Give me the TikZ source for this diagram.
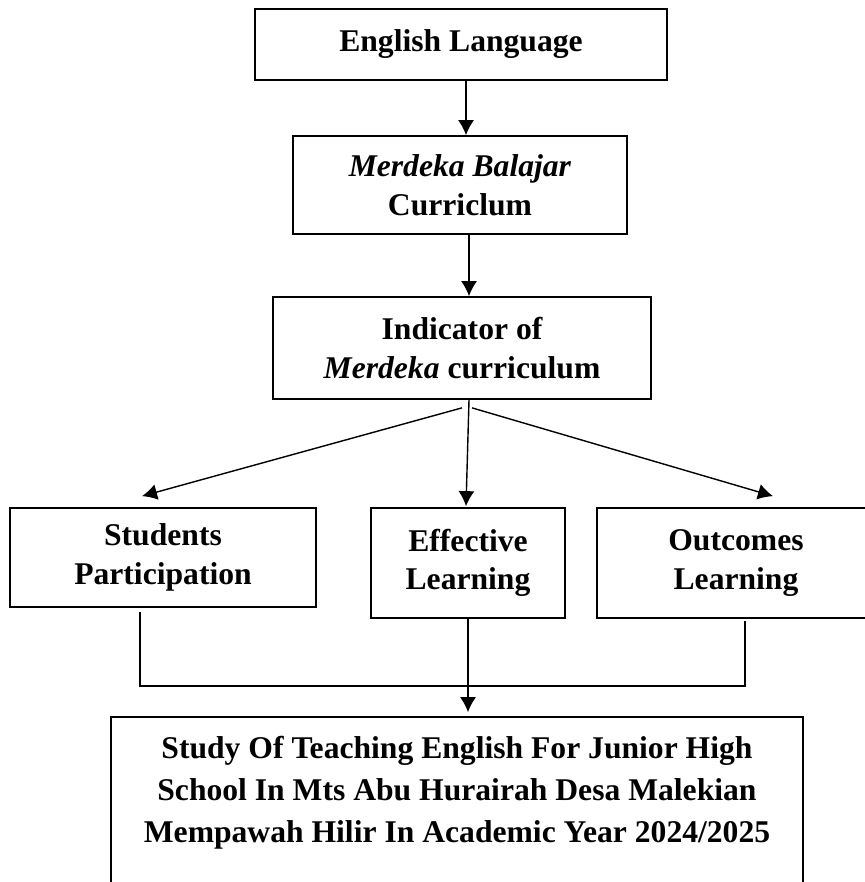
\documentclass[tikz,border=0pt]{standalone}
\usepackage{fontspec}
\setmainfont{Liberation Serif}
\usetikzlibrary{calc,arrows.meta}

\begin{document}
\begin{tikzpicture}[x=0.02cm,y=-0.02cm,
    box/.style={draw, line width=1pt, inner sep=0pt, align=center, font=\fontsize{18}{22}\selectfont\bfseries},
    arr/.style={draw, line width=0.8pt, -{Latex[length=0.3cm,width=0.32cm]}}]
    \useasboundingbox (0,0) rectangle (865,882);
    \node[box, minimum width=8.24cm, minimum height=1.42cm] at (461,44.5) (eng) {English Language};
    \node[box, minimum width=6.68cm, minimum height=1.96cm] at (460,185) (mbc) {\textit{Merdeka Balajar}\\Curriclum};
    \node[box, minimum width=7.56cm, minimum height=2.04cm] at (462,348) (ind) {Indicator of\\\textit{Merdeka} curriculum};
    \node[box, minimum width=6.12cm, minimum height=1.98cm] at (163,557.5) (stu) {Students\\Participation};
    \node[box, minimum width=3.88cm, minimum height=2.2cm] at (468,563) (eff) {Effective\\Learning};
    \node[box, minimum width=5.56cm, minimum height=2.2cm] at (736,563) (out) {Outcomes\\Learning};
    \node[box, font=\fontsize{18}{24}\selectfont\bfseries, minimum width=13.84cm, minimum height=3.74cm] at (457,810.5) (res) {Study Of Teaching English For Junior High\\School In Mts Abu Hurairah Desa Malekian\\Mempawah Hilir In Academic Year 2024/2025\\\mbox{}};
    \draw[arr] ($(eng.south)+(5,0)$) -- ($(mbc.north)+(6,0)$);
    \draw[arr] ($(mbc.south)+(9,0)$) -- ($(ind.north)+(7,0)$);
    \draw[arr] ($(ind.south)+(0,8)$) -- ($(stu.north)+(-21,-11)$);
    \draw[arr] ($(ind.south)+(7,0)$) -- ($(eff.north)+(-2,-1)$);
    \draw[arr] ($(ind.south)+(10,8)$) -- ($(out.north)+(37,-11)$);
    \draw[line width=0.8pt] ($(stu.south)+(-23,4)$) |- ($(out.south)+(9,67)$) -- ($(out.south)+(9,2)$);
    \draw[arr] (eff.south) -- ($(eff.south |- res.north)+(0,-4)$);
\end{tikzpicture}
\end{document}
